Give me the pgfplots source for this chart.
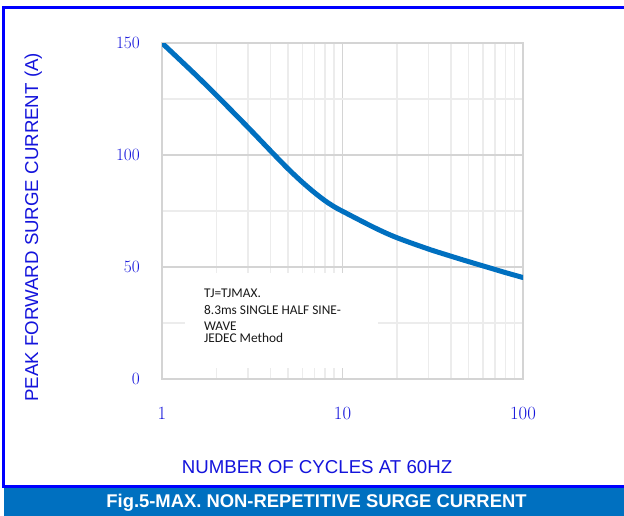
\documentclass[border=0pt]{standalone}
\usepackage{pgfplots}
\pgfplotsset{compat=1.18}
\usepackage{fontspec}
\newfontfamily\arial{Liberation Sans}
\newfontfamily\calib{Carlito}
\definecolor{curveblue}{RGB}{0,112,192}
\definecolor{txtblue}{RGB}{20,20,220}
\definecolor{frameblue}{RGB}{0,0,255}
\definecolor{gridmaj}{RGB}{212,212,212}
\definecolor{gridmin}{RGB}{236,236,236}
\begin{document}
\begin{tikzpicture}[x=1pt,y=1pt]
\useasboundingbox (0,0) rectangle (624,-515);
\fill[white] (0,0) rectangle (624,-515);
\begin{axis}[
  at={(162pt,-379pt)}, anchor=south west,
  scale only axis, width=361pt, height=336pt,
  xmode=log, xmin=1, xmax=100, ymin=0, ymax=150,
  xtick={1,10,100}, xticklabels={1,10,100},
  minor xtick={2,3,4,5,6,7,8,9,20,30,40,50,60,70,80,90},
  ytick={0,50,100,150}, minor ytick={25,75,125},
  grid=both,
  major grid style={draw=gridmaj, line width=1.5pt},
  minor grid style={draw=gridmin, line width=1.5pt},
  axis line style={draw=gridmaj, line width=1.5pt},
  major tick length=0pt, minor tick length=0pt,
  tick label style={text=txtblue, font=\fontsize{18.67}{22}\selectfont, inner sep=0pt},
  yticklabel style={anchor=east, xshift=-22pt},
  xticklabel style={anchor=north, yshift=-27.7pt},
  log ticks with fixed point,
]
\addplot[draw=curveblue, line width=5pt, smooth, tension=0.5, line cap=round] coordinates {
(1,150) (1.5,136.6) (2,126.7) (3,112.3) (4,101.8) (5,93.8) (6,87.8) (7,83.2) (8,79.6) (9,76.9) (10,74.9)
(15,67.6) (20,63.1) (30,58.0) (40,54.8) (50,52.4) (60,50.5) (70,48.9) (80,47.5) (100,45.3)
};
\end{axis}
\fill[white] (185,-273) rectangle (378,-368);
\begin{scope}[every node/.style={anchor=base west, inner sep=0pt, font=\calib\fontsize{13.33}{16}\selectfont, text=black!90}]
\node at (204,-297.3) {TJ=TJMAX.};
\node at (204,-314.3) {8.3ms SINGLE HALF SINE-};
\node at (204,-330.2) {WAVE};
\node at (204,-342.2) {JEDEC Method};
\end{scope}
\node[rotate=90, anchor=base, inner sep=0pt, text=txtblue, font=\arial\fontsize{18.67}{22}\selectfont] at (38,-227.3) {PEAK FORWARD SURGE CURRENT (A)};
\node[anchor=base, inner sep=0pt, text=txtblue, font=\arial\fontsize{18.67}{22}\selectfont] at (317,-473.3) {NUMBER OF CYCLES AT 60HZ};
\fill[curveblue] (4,-488) rectangle (630,-520);
\node[anchor=base, inner sep=0pt, text=white, font=\arial\bfseries\fontsize{18.4}{22}\selectfont] at (316.5,-507.3) {Fig.5-MAX. NON-REPETITIVE SURGE CURRENT};
\draw[frameblue, line width=3pt, line join=miter] (630,-7) -- (3.5,-7) -- (3.5,-486.3) -- (630,-486.3);
\end{tikzpicture}
\end{document}
